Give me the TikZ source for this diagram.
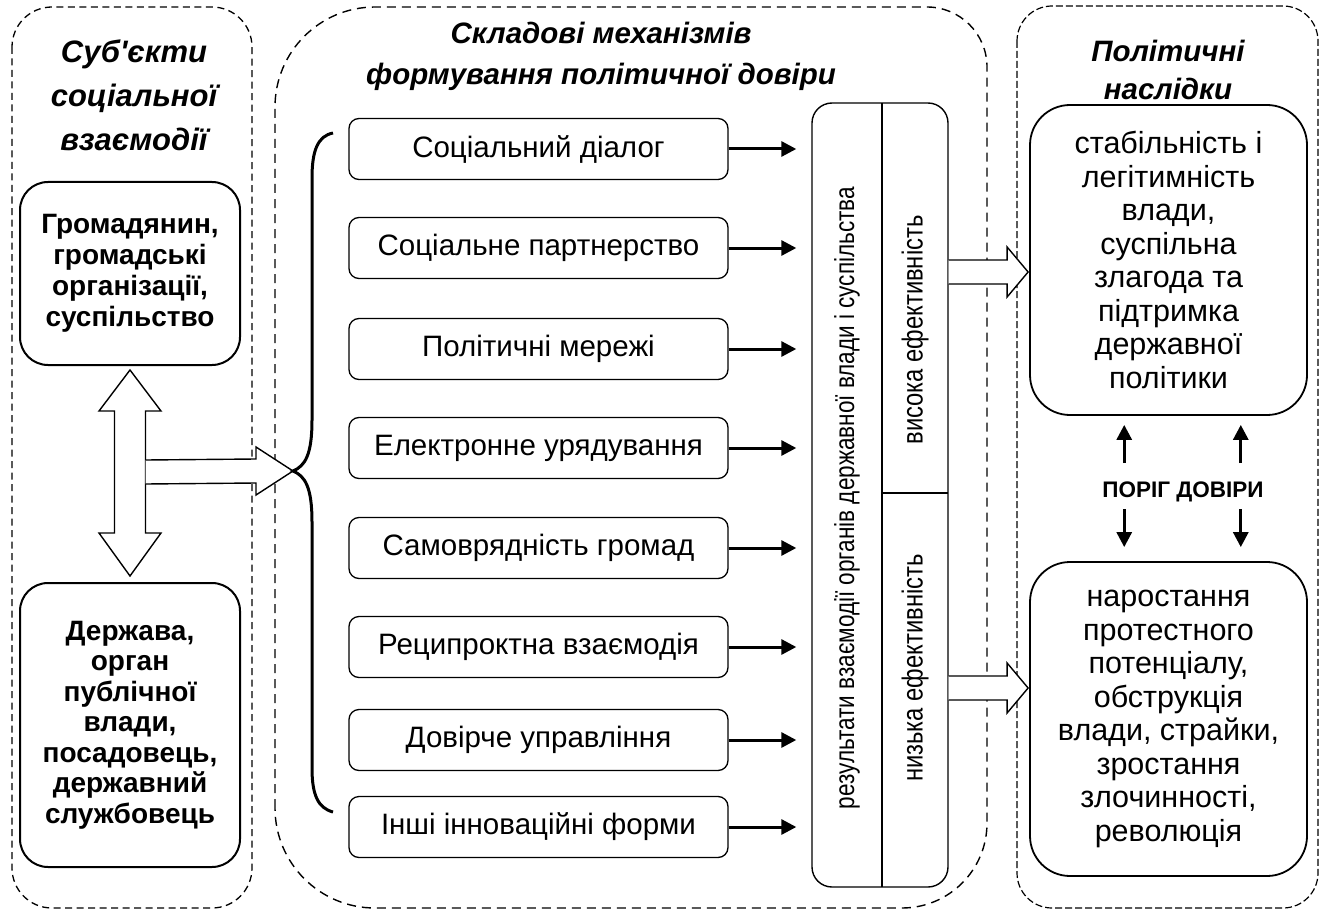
\documentclass[tikz,border=0pt]{standalone}
\usepackage{fontspec}
\setmainfont{Liberation Sans}
\newfontfamily\narrowf[FakeStretch=0.82]{Liberation Sans}
\newfontfamily\apf[Ligatures=TeXOff]{Liberation Sans}
\usetikzlibrary{arrows.meta,calc}
\begin{document}
\begin{tikzpicture}[x=1pt,y=-1pt,
  dl/.style={line width=1.3pt, dash pattern=on 7pt off 4.5pt},
  dm/.style={line width=1.4pt, dash pattern=on 9pt off 6pt},
  dr/.style={line width=1.2pt, dash pattern=on 7pt off 3pt},
  ttl/.style={align=center, inner sep=0pt, font=\fontsize{29.5}{41}\selectfont\bfseries\itshape},
  lbox/.style={draw, line width=2pt, rounded corners=28pt, align=center, inner sep=0pt,
    minimum width=220pt, font=\fontsize{28}{31}\selectfont\bfseries},
  mbox/.style={draw, line width=1.3pt, rounded corners=10pt, align=center, inner sep=0pt,
    minimum width=379pt, minimum height=61pt, font=\fontsize{29.5}{34}\selectfont},
  rbox/.style={draw, line width=1.8pt, rounded corners=40pt, align=center, inner sep=0pt,
    minimum width=277pt, font=\fontsize{30.5}{33.5}\selectfont},
  sarr/.style={line width=3pt, -{Triangle[length=15pt,width=15pt]}},
  barrow/.style={draw, fill=white, line width=1.4pt, line join=miter},
  vtxt/.style={rotate=90, inner sep=0pt, font=\narrowf\fontsize{27.5}{32}\selectfont}
]
\useasboundingbox (0,0) rectangle (1327,912);

% containers
\draw[dl, rounded corners=40pt] (12,7) rectangle (252,908);
\draw[dm] (275,808) -- (275,107) arc[start angle=180,end angle=270,radius=100]
  -- (927,7) arc[start angle=270,end angle=360,radius=60]
  -- (987,823) arc[start angle=0,end angle=90,radius=85]
  -- (375,908) arc[start angle=90,end angle=180,radius=100] -- cycle;
\draw[dr, rounded corners=35pt] (1017,6) rectangle (1318,908);

% titles
\node[ttl, font=\fontsize{31}{44}\selectfont\bfseries\itshape] (t1) at (134,95) {Суб{\apf\char"27}єкти\\соціальної\\взаємодії};
\node[ttl] (t2) at (601,56) {Складові механізмів\\формування політичної довіри};
\node[ttl, font=\fontsize{29.5}{38}\selectfont\bfseries\itshape] (t3) at (1168,70) {Політичні\\наслідки};

% left boxes
\node[lbox, minimum height=183pt] (gr) at (130,273.5) {Громадянин,\\громадські\\організації,\\суспільство};
\node[lbox, minimum height=284pt, font=\fontsize{28}{30.5}\selectfont\bfseries] (ds) at (130,725) {Держава,\\орган\\публічної\\влади,\\посадовець,\\державний\\службовець};

% double arrow
\coordinate (dtop) at ($(gr.south)+(0,4)$);
\coordinate (dbot) at ($(ds.north)+(0,-6)$);
\draw[barrow] (dtop) -- ++(31,41) -- ++(-15.5,0) -- ($(dbot)+(15.5,-43)$) -- ++(15.5,0)
  -- (dbot) -- ++(-31,-43) -- ++(15.5,0) -- ($(dtop)+(-15.5,41)$) -- ++(-15.5,0) -- cycle;

% brace
\coordinate (brtip) at (293,471);
\coordinate (hs) at ($(dtop)+(15.5,102)$);
\draw[barrow] ($(hs)+(0,-12)$) -- ($(brtip)+(-37,-12)$) -- ($(brtip)+(-37,-24)$) -- (brtip)
  -- ($(brtip)+(-37,24)$) -- ($(brtip)+(-37,12)$) -- ($(hs)+(0,12)$);
\draw[line width=3pt] (333,133) .. controls (318,136) and (312,150) .. (312,178) -- (312,420)
  .. controls (312,455) and (305,466) .. (brtip)
  .. controls (305,476) and (312,487) .. (312,522) -- (312,768)
  .. controls (312,795) and (318,808) .. (333,812);

% middle boxes
\node[mbox] (m1) at (538.5,149) {Соціальний діалог};
\node[mbox] (m2) at (538.5,248) {Соціальне партнерство};
\node[mbox] (m3) at (538.5,349) {Політичні мережі};
\node[mbox] (m4) at (538.5,448) {Електронне урядування};
\node[mbox] (m5) at (538.5,548) {Самоврядність громад};
\node[mbox] (m6) at (538.5,647) {Реципроктна взаємодія};
\node[mbox] (m7) at (538.5,740) {Довірче управління};
\node[mbox] (m8) at (538.5,827) {Інші інноваційні форми};

% big vertical box
\node[draw, line width=1.4pt, rounded corners=20pt, minimum width=136pt, minimum height=784pt, inner sep=0pt] (big) at (880,495) {};
\draw[line width=1.4pt] (882,103) -- (882,887);
\draw[line width=1.4pt] (882,493) -- (948,493);
\node[vtxt] (v1) at (847,498) {результати взаємодії органів державної влади і суспільства};
\node[vtxt, font=\narrowf\fontsize{29}{32}\selectfont] (v2) at (915,330) {висока ефективність};
\node[vtxt, font=\narrowf\fontsize{29}{32}\selectfont] (v3) at (915,668) {низька ефективність};

\foreach \i in {1,...,8} {
  \draw[sarr] (m\i.east) -- ($(m\i.east -| big.west)+(-15,0)$);
}

% right boxes
\node[rbox, minimum height=310pt] (top) at (1168.5,260) {стабільність і\\легітимність\\влади,\\суспільна\\злагода та\\підтримка\\державної\\політики};
\node[rbox, minimum height=314pt] (bot) at (1168.5,719) {наростання\\протестного\\потенціалу,\\обструкція\\влади, страйки,\\зростання\\злочинності,\\революція};

% block arrows to right
\coordinate (ua) at (big.east |- 0,272);
\coordinate (ut) at ($(ua -| top.west)+(-1,0)$);
\draw[barrow] ($(ua)+(0,-12)$) -- ($(ut)+(-21,-12)$) -- ($(ut)+(-21,-25)$) -- (ut)
  -- ($(ut)+(-21,25)$) -- ($(ut)+(-21,12)$) -- ($(ua)+(0,12)$);
\coordinate (la) at (big.east |- 0,688);
\coordinate (lt) at ($(la -| bot.west)+(-1,0)$);
\draw[barrow] ($(la)+(0,-12)$) -- ($(lt)+(-21,-12)$) -- ($(lt)+(-21,-25)$) -- (lt)
  -- ($(lt)+(-21,25)$) -- ($(lt)+(-21,12)$) -- ($(la)+(0,12)$);

% threshold
\node[inner sep=0pt, font=\fontsize{22.5}{24}\selectfont\bfseries] (thr) at (1183,492) {ПОРІГ ДОВІРИ};
\draw[sarr] ($(thr.west |- 0,463)+(22,0)$) -- ($(thr.west |- top.south)+(22,9)$);
\draw[sarr] ($(thr.east |- 0,463)+(-23,0)$) -- ($(thr.east |- top.south)+(-23,9)$);
\draw[sarr] ($(thr.west |- 0,509)+(22,0)$) -- ($(thr.west |- bot.north)+(22,-14)$);
\draw[sarr] ($(thr.east |- 0,509)+(-23,0)$) -- ($(thr.east |- bot.north)+(-23,-14)$);
\end{tikzpicture}
\end{document}
